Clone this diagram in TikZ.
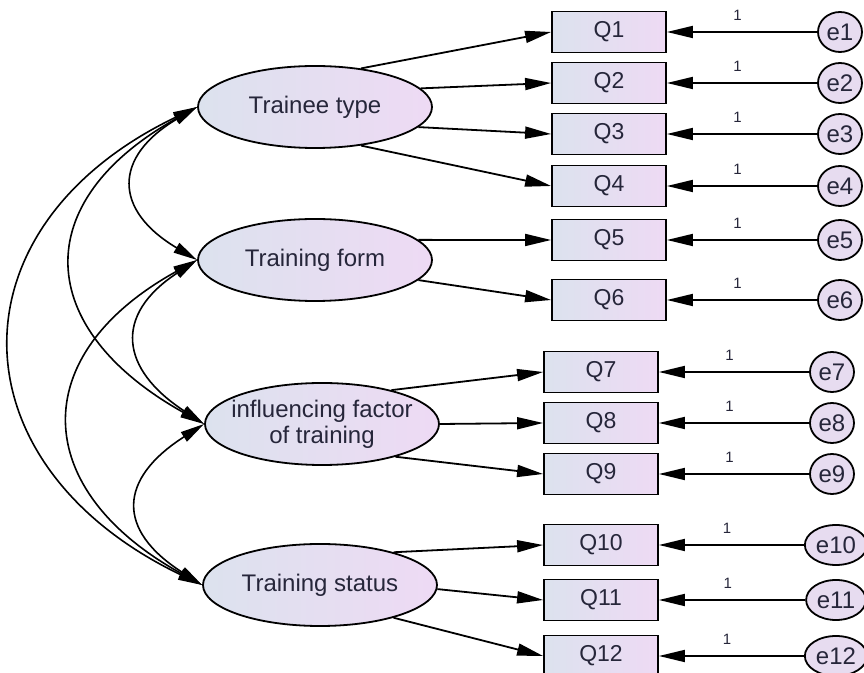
\documentclass[tikz,border=0pt]{standalone}
\usepackage{fontspec}
\setmainfont{Liberation Sans}
\usepackage{xcolor}
\usepackage{tikz}
\usetikzlibrary{arrows.meta,shapes.geometric}
\definecolor{latL}{HTML}{DCE2EE}
\definecolor{latR}{HTML}{EEDAF4}
\definecolor{errC}{HTML}{E7DCF0}
\definecolor{ink}{HTML}{26263A}
\tikzset{
  latent/.style={ellipse, draw, line width=0.9pt, left color=latL, right color=latR, minimum width=117pt, minimum height=41pt, inner sep=0pt, align=center, text=ink, font=\fontsize{12}{13}\selectfont},
  obsbox/.style={rectangle, draw, line width=0.9pt, left color=latL, right color=latR, minimum width=57pt, minimum height=20.5pt, inner sep=0pt, text=ink, font=\fontsize{11.5}{12}\selectfont},
  errnode/.style={ellipse, draw, line width=0.9pt, fill=errC, minimum width=22pt, minimum height=20pt, inner sep=1pt, text=ink, font=\fontsize{12}{12}\selectfont},
  loading/.style={-{Triangle[length=13pt, width=6pt]}, line width=0.9pt},
  covar/.style={{Triangle[length=12pt, width=5.5pt]}-{Triangle[length=12pt, width=5.5pt]}, line width=0.8pt},
  one/.style={pos=0.53, above=2pt, font=\fontsize{7.5}{8}\selectfont, text=ink}
}

\begin{document}
\begin{tikzpicture}[x=0.5pt, y=-0.5pt]
  \useasboundingbox (0,0) rectangle (864,673);
  % latent variables
  \node[latent] (TT) at (315,107) {Trainee type};
  \node[latent] (TF) at (315,260) {Training form};
  \node[latent, inner sep=-5pt] (IF) at (322,424) {influencing factor\\of training};
  \node[latent] (TS) at (320,585) {Training status};
  % observed items
  \node[obsbox] (Q1) at (609,32) {Q1};
  \node[obsbox] (Q2) at (609,83) {Q2};
  \node[obsbox] (Q3) at (609,134) {Q3};
  \node[obsbox] (Q4) at (609,186) {Q4};
  \node[obsbox] (Q5) at (609,240) {Q5};
  \node[obsbox] (Q6) at (609,300) {Q6};
  \node[obsbox] (Q7) at (601,372) {Q7};
  \node[obsbox] (Q8) at (601,423) {Q8};
  \node[obsbox] (Q9) at (601,474) {Q9};
  \node[obsbox] (Q10) at (601,545) {Q10};
  \node[obsbox] (Q11) at (601,600) {Q11};
  \node[obsbox] (Q12) at (601,656) {Q12};
  % error terms
  \node[errnode] (e1) at (840,32) {e1};
  \node[errnode] (e2) at (840,83) {e2};
  \node[errnode] (e3) at (840,134) {e3};
  \node[errnode] (e4) at (840,186) {e4};
  \node[errnode] (e5) at (840,240) {e5};
  \node[errnode] (e6) at (840,300) {e6};
  \node[errnode] (e7) at (832,372) {e7};
  \node[errnode] (e8) at (832,423) {e8};
  \node[errnode] (e9) at (832,474) {e9};
  \node[errnode] (e10) at (836,545) {e10};
  \node[errnode] (e11) at (836,600) {e11};
  \node[errnode] (e12) at (836,656) {e12};
  % loadings
  \draw[loading] (TT.40) -- (Q1.west);
  \draw[loading] (TT.10) -- (Q2.west);
  \draw[loading] (TT.-11) -- (Q3.west);
  \draw[loading] (TT.-40) -- (Q4.west);
  \draw[loading] (TF.11) -- (Q5.west);
  \draw[loading] (TF.-11) -- (Q6.west);
  \draw[loading] (IF.26) -- (Q7.west);
  \draw[loading] (IF.east) -- (Q8.west);
  \draw[loading] (IF.-24) -- (Q9.west);
  \draw[loading] (TS.24) -- (Q10.west);
  \draw[loading] (TS.-2) -- (Q11.west);
  \draw[loading] (TS.-24) -- (Q12.west);
  \foreach \i in {1,...,12}
    \draw[loading] (e\i) -- node[one] {1} (Q\i);
  % covariances
  \draw[covar] (TT.west) .. controls +(-84,50) and +(-84,-50) .. (TF.west);
  \draw[covar] (TF.west) .. controls +(-84,55) and +(-84,-55) .. (IF.west);
  \draw[covar] (IF.west) .. controls +(-86,55) and +(-86,-55) .. (TS.west);
  \draw[covar] (TT.west) .. controls +(-170,95) and +(-170,-95) .. (IF.west);
  \draw[covar] (TF.west) .. controls +(-172,95) and +(-172,-95) .. (TS.west);
  \draw[covar] (TT.west) .. controls +(-250,120) and +(-250,-120) .. (TS.west);
\end{tikzpicture}
\end{document}
